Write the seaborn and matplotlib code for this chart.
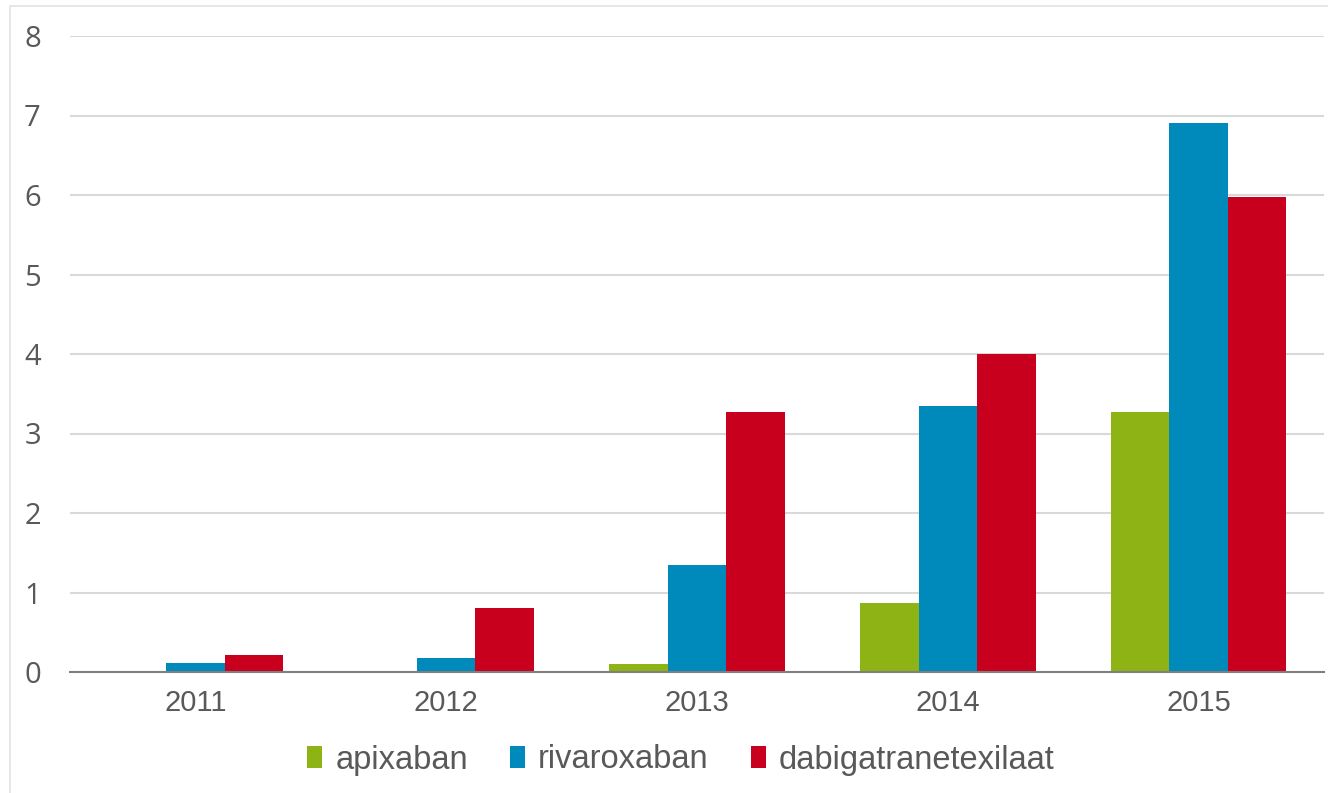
import matplotlib
matplotlib.use("Agg")
import matplotlib.pyplot as plt
from matplotlib.patches import Patch, Rectangle
import pandas as pd
import seaborn as sns

years = ["2011", "2012", "2013", "2014", "2015"]
apixaban = [0.0, 0.0, 0.1, 0.87, 3.27]
rivaroxaban = [0.11, 0.18, 1.35, 3.35, 6.9]
dabigatran = [0.22, 0.8, 3.27, 4.0, 5.97]
series_names = ["apixaban", "rivaroxaban", "dabigatranetexilaat"]
colors = ["#8DB414", "#0089BB", "#C8001E"]

df = pd.DataFrame({
    "jaar": years * 3,
    "waarde": apixaban + rivaroxaban + dabigatran,
    "middel": [n for n in series_names for _ in years],
})

sns.set_theme(style="white")
plt.rcParams["font.family"] = ["Liberation Sans", "DejaVu Sans"]

W, H = 1328, 793
fig = plt.figure(figsize=(W / 100, H / 100), dpi=100)
ax = fig.add_axes([70 / W, 1 - 672 / H, (1324 - 70) / W, (672 - 36) / H])

sns.barplot(data=df, x="jaar", y="waarde", hue="middel", order=years,
            hue_order=series_names, palette=colors, width=0.7,
            saturation=1, linewidth=0, ax=ax, legend=False)

ax.set_ylim(0, 8)
ax.set_xlim(-0.5, 4.5)
ax.set_yticks(range(0, 9))
ax.yaxis.grid(True, color="#D9D9D9", linewidth=1.5)
ax.set_axisbelow(True)
for side in ["left", "right", "top"]:
    ax.spines[side].set_visible(False)
ax.spines["bottom"].set_color("#7F7F7F")
ax.spines["bottom"].set_linewidth(1.5)
ax.tick_params(axis="both", length=0, colors="#595959")
ax.tick_params(axis="y", pad=21, labelsize=21)
ax.tick_params(axis="x", pad=12, labelsize=21)
for lbl in ax.get_yticklabels():
    lbl.set_fontfamily(["Open Sans", "DejaVu Sans"])
ax.set_xlabel("")
ax.set_ylabel("")

handles = [Patch(facecolor=c, edgecolor="none") for c in colors]
fig.legend(handles, series_names, loc="center", ncol=3,
           bbox_to_anchor=(681 / W, 1 - 760 / H), frameon=False,
           handlelength=0.45, handleheight=0.65,
           handletextpad=0.4, columnspacing=1.3,
           labelcolor="#595959",
           prop={"family": ["Liberation Sans", "DejaVu Sans"], "size": 23.5})

# thin frame around the chart area
fig.patches.append(Rectangle((10 / W, -0.01), 1.0, 1 - 6 / H + 0.01,
                             transform=fig.transFigure, fill=False,
                             edgecolor="#E3E3E3", linewidth=1.2))

fig.savefig("out.png", dpi=100)
